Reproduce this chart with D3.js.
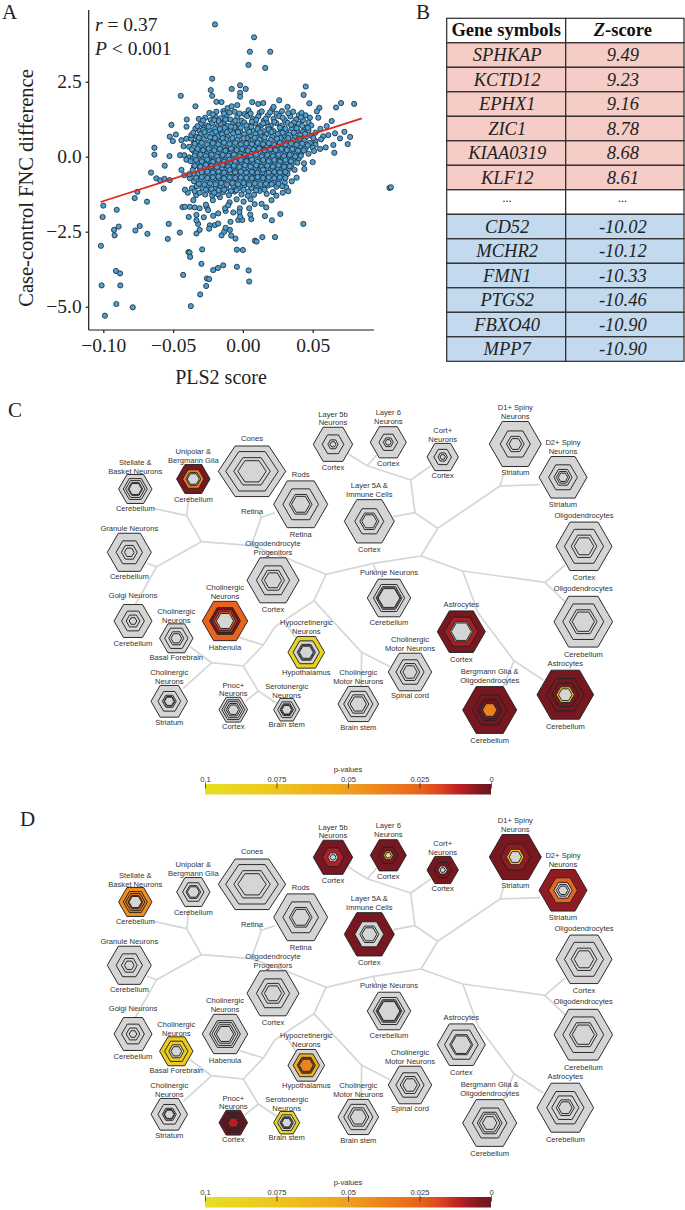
<!DOCTYPE html>
<html><head><meta charset="utf-8">
<script src="https://cdnjs.cloudflare.com/ajax/libs/d3/7.8.5/d3.min.js"></script>
<style>html,body{margin:0;padding:0;background:#fff}svg{display:block;opacity:.999}</style>
</head><body><svg id="fig" width="685" height="1210"></svg>
<script>
// ---------- Panel A values (PLS2 score, case-control FNC difference)
const fringePoints=[[-.020,4.41],[.008,3.98],[.005,3.5],[.0196,3.5],[.004,3.06],[.016,2.96],[-.022,2.6],[-.002,2.38],[.002,2.26],[-.008,2.26],[-.023,2.22],[-.0445,2.03],[-.022,2.03],[-.002,2.13],[-.002,2.0],[.045,2.34],[.0435,2.06],[.0067,1.82],[.011,1.76],[.0146,1.79],[.026,1.88],[.0476,1.78],[.0548,1.63],[.053,1.51],[.0667,1.64],[.0703,1.79],[.0797,1.76],[-.019,1.83],[-.0153,1.82],[-.034,1.68],[.105,-1.04],[.106,-1.02],
[.0636,1.19],[.054,1.3],[.06,1.02],[.0727,.83],[.0768,.66],[.0751,.42],[.0696,.61],[.0655,.13],[.0648,.39],[.0593,.31],[.0553,.26],[.05,-.18],[.0438,-.22],[.044,-.41],[.0385,-.7],[.066,.78],[.0612,.72],[.0575,.68],[.0555,.93],[.052,.52],
[-.0634,.3],[-.0634,.07],[-.0658,-.53],[-.0512,1.06],[-.0402,1.24],[-.0404,1.0],[-.0316,1.26],[-.048,.74],[-.0524,.67],[-.0502,.52],[-.0526,.02],[-.056,-.3],[-.062,-.72],[-.0593,-.79],[-.0562,-.74],[-.0524,-.78],[-.0567,-1.06],[-.044,-.44],[-.0756,-1.17],[-.0775,-1.38],[-.0687,-1.5],[-.1,-1.63],[-.1005,-2.01],[-.0904,-1.77],[-.0923,-2.44],[-.0919,-2.62],[-.089,-2.33],[-.077,-2.46],[-.0739,-2.31],[-.0684,-2.57],[-.1017,-2.97],[-.1012,-4.29],[-.0909,-3.81],[-.088,-3.89],[-.0878,-4.29],[-.0907,-4.91],[-.0988,-5.3],[-.0789,-5.02],[-.0373,-4.98],[-.0306,-4.59],[-.0263,-4.31],[-.0258,-4.06],[-.0242,-4.08],[-.0428,-3.94],[-.0297,-3.57],[-.0292,-3.09],[-.039,-3.18],[-.0382,-3.2],[-.0378,-3.34],[-.0213,-3.78],[-.0179,-3.71],[-.0141,-3.62],[-.0043,-3.67],[-.0043,-3.1],[0,-3.11],[.0041,-3.79],[.0045,-4.16],[-.0538,-2.74],[-.0531,-2.24],[-.0452,-2.53],[-.031,-2.44],[-.0333,-2.56],[.0433,-2.24],[.023,-2.68],[.0139,-2.68],[.0086,-2.8],[.0098,-2.83],[-.0053,-2.73],[-.0084,-2.63],[-.0153,-2.62],[-.0134,-2.5],[-.0093,-2.44],[-.0124,-2.37],[-.0089,-2.17],[-.0033,-2.11],[-.0005,-2.11],[.006,-2.08],[.0053,-1.93],[.0208,-2.12],[.0268,-1.91],[.0158,-1.98],[.0167,-1.69],[.0134,-1.57],[.0084,-1.58],[.0045,-1.72],[-.0022,-1.72],[-.0069,-1.86],[-.0237,-2.29],[-.0201,-2.28],[-.0177,-2.23],[-.0242,-2.4],[-.0388,-2.01],[-.0333,-1.94],[-.0321,-2.24],[-.0333,-2.12],[-.028,-2.02],[-.0213,-1.97],[-.0177,-1.89],[-.0124,-1.81],[-.0433,-1.68],[-.038,-1.67],[-.0345,-1.69],[-.031,-1.72],[-.026,-1.67],[-.0249,-1.78],[-.0265,-1.6],[-.0128,-1.72],[-.0095,-1.52],[-.0105,-1.62],[-.0025,-1.85],[-.002,-2.0],[-.0415,-1.67],[-.0355,-1.45],[-.0335,-1.28],[-.0395,-1.2],[-.0415,-1.1],[-.0365,-1.05],[-.0345,-1.15],[.0205,-1.45],[.024,-1.3],[.0215,-1.18],[.0285,-1.2],[.031,-1.02],[.0325,-1.15],[.0055,-1.42],[.0005,-1.5],[-.0045,-1.42],[-.0165,-1.35],[-.022,-1.3],[-.0215,-1.45],[-.042,-.62],[-.038,-.72],[-.045,.05],[-.042,.05],[-.044,.55],[-.0405,.6],[-.037,.6],[-.0425,.35],[-.0385,.33],[-.035,.45],[-.0355,.2],[-.0385,-.02],[-.0405,-.1],[-.035,-.32],[-.0345,-.6],[-.0385,-.58]];
const cloudPoints=[[-.024,1.46],[-.019,1.5],[-.014,1.52],[-.011,1.62],[-.008,1.68],[-.004,1.72],[-.006,1.5],[.001,1.42],[.004,1.55],[.012,1.46],[.021,1.58],[.024,1.44],[.032,1.66],[.036,1.5],[.040,1.38],[.045,1.38],[.048,1.3],[.022,1.66],[.028,1.52],[.042,1.46],
[-.027,1.3],[-.023,1.22],[-.02,1.34],[-.016,1.28],[-.012,1.38],[-.009,1.24],[-.004,1.33],[-.001,1.2],[.003,1.36],[.007,1.26],[.011,1.34],[.015,1.2],[.018,1.38],[.022,1.26],[.026,1.35],[.03,1.22],[.034,1.34],[.038,1.24],[.043,1.22],[.047,1.14],
[-.03,1.1],[-.026,1.04],[-.022,1.12],[-.018,1.02],[-.014,1.14],[-.011,1.03],[-.007,1.12],[-.003,1.05],[.001,1.14],[.005,1.02],[.009,1.12],[.013,1.04],[.017,1.15],[.02,1.03],[.024,1.12],[.028,1.04],[.032,1.13],[.036,1.02],[.04,1.1],[.044,.98],[.049,1.04],
[-.034,.94],[-.031,.86],[-.028,.96],[-.024,.88],[-.02,.94],[-.016,.85],[-.013,.96],[-.009,.87],[-.005,.95],[-.002,.84],[.003,.93],[.007,.86],[.011,.96],[.015,.85],[.019,.93],[.022,.85],[.027,.93],[.031,.84],[.035,.94],[.039,.86],[.043,.83],[.047,.87],[.052,.8],
[-.037,.72],[-.033,.66],[-.03,.76],[-.026,.69],[-.022,.77],[-.018,.68],[-.015,.75],[-.011,.66],[-.007,.77],[-.003,.68],[.001,.75],[.005,.67],[.009,.76],[.013,.69],[.017,.75],[.021,.66],[.025,.76],[.029,.67],[.033,.74],[.037,.66],[.041,.72],[.045,.64],[.049,.7],[.056,.58],
[-.032,.52],[-.028,.58],[-.024,.49],[-.02,.57],[-.016,.5],[-.012,.58],[-.008,.48],[-.004,.56],[0,.49],[.004,.57],[.008,.48],[.012,.57],[.016,.5],[.02,.56],[.024,.47],[.028,.57],[.032,.49],[.036,.55],[.04,.47],[.044,.54],[.048,.46],[.052,.4],
[-.031,.36],[-.027,.29],[-.023,.38],[-.019,.3],[-.015,.39],[-.011,.31],[-.007,.38],[-.003,.29],[.001,.37],[.005,.3],[.009,.39],[.013,.29],[.017,.37],[.021,.3],[.025,.38],[.029,.29],[.033,.37],[.037,.28],[.041,.35],[.045,.28],[.05,.3],
[-.034,.12],[-.03,.18],[-.026,.09],[-.022,.17],[-.018,.1],[-.014,.19],[-.01,.1],[-.006,.18],[-.002,.09],[.002,.18],[.006,.11],[.01,.19],[.014,.09],[.018,.17],[.022,.1],[.026,.18],[.03,.09],[.034,.17],[.038,.09],[.042,.14],[.047,.1],[.051,.19],
[-.036,-.06],[-.032,.0],[-.028,-.08],[-.024,-.01],[-.02,-.09],[-.016,.0],[-.012,-.07],[-.008,-.01],[-.004,-.1],[0,-.02],[.004,-.08],[.008,0],[.012,-.09],[.016,-.02],[.02,-.07],[.024,-.01],[.028,-.08],[.032,-.02],[.036,-.07],[.04,-.06],
[-.033,-.2],[-.029,-.27],[-.025,-.18],[-.021,-.26],[-.017,-.18],[-.013,-.28],[-.009,-.19],[-.005,-.27],[-.001,-.18],[.003,-.26],[.007,-.19],[.011,-.28],[.015,-.18],[.019,-.26],[.023,-.2],[.027,-.27],[.031,-.19],[.035,-.26],[.039,-.2],
[-.036,-.44],[-.031,-.38],[-.027,-.46],[-.023,-.37],[-.019,-.45],[-.015,-.38],[-.011,-.47],[-.007,-.37],[-.003,-.45],[.001,-.38],[.005,-.46],[.009,-.36],[.013,-.44],[.017,-.38],[.021,-.46],[.025,-.37],[.029,-.45],[.033,-.4],[.037,-.44],
[-.032,-.58],[-.028,-.65],[-.024,-.56],[-.02,-.64],[-.016,-.57],[-.012,-.66],[-.008,-.56],[-.004,-.65],[0,-.58],[.004,-.63],[.008,-.55],[.012,-.66],[.016,-.57],[.02,-.64],[.024,-.58],[.028,-.66],[.032,-.57],
[-.035,-.82],[-.03,-.76],[-.026,-.85],[-.022,-.76],[-.018,-.84],[-.014,-.77],[-.01,-.86],[-.006,-.76],[-.002,-.84],[.002,-.77],[.006,-.85],[.01,-.75],[.014,-.84],[.018,-.78],[.022,-.85],[.026,-.76],[.03,-.86],[.035,-.82],
[-.033,-.98],[-.029,-1.05],[-.025,-.96],[-.02,-1.04],[-.016,-.97],[-.012,-1.06],[-.007,-.97],[-.003,-1.05],[.001,-.96],[.006,-1.05],[.01,-.97],[.014,-1.06],[.018,-.96],[.024,-1.0],[.028,-.98],
[-.031,-1.2],[-.027,-1.26],[-.023,-1.15],[-.018,-1.25],[-.014,-1.18],[-.01,-1.28],[-.006,-1.16],[-.001,-1.26],[.004,-1.16],[.008,-1.27],[.012,-1.14],[.017,-1.24],
[-.016,1.1],[-.006,.98],[.006,1.0],[.018,1.0],[-.02,.62],[.003,.62],[.027,.62],[-.012,.22],[.015,.23],[-.024,-.14],[.005,-.14],[.026,-.13],[-.009,-.52],[.014,-.52],[-.017,-.72],[.009,-.7]];
const denseCorePoints=[[-.0285,1.21],[-.0215,1.41],[-.0175,1.19],[-.0135,1.44],[-.0095,1.47],[-.0025,1.44],[.0055,1.44],[.0095,1.23],[.0135,1.51],[.0165,1.27],[.0195,1.48],[.0285,1.3],[.0325,1.45],[.0365,1.14],[.0415,1.31],
[-.0325,1.02],[-.0285,.9],[-.0245,1.0],[-.0205,1.22],[-.0165,.92],[-.0125,1.24],[-.0085,1.0],[-.0055,1.2],[-.0015,.97],[.0025,1.04],[.0065,1.17],[.0105,.92],[.0145,1.11],[.0185,.91],[.0225,1.16],[.0265,.97],[.0305,.93],[.0345,1.06],[.0385,.95],[.0425,1.03],[.0465,.96],
[-.0355,.8],[-.0315,.63],[-.0275,.82],[-.0235,.65],[-.0195,.83],[-.0145,.62],[-.0115,.82],[-.0075,.62],[-.0035,.82],[.0005,.61],[.0045,.83],[.0085,.63],[.0125,.81],[.0155,.64],[.0205,.82],[.0245,.6],[.0285,.8],[.0325,.62],[.0365,.8],[.0405,.6],[.0445,.76],[.0505,.62],
[-.0345,.43],[-.0295,.46],[-.0255,.4],[-.0215,.45],[-.0175,.41],[-.0135,.47],[-.0095,.42],[-.0055,.46],[-.0015,.41],[.0025,.44],[.0065,.42],[.0105,.46],[.0145,.42],[.0185,.45],[.0225,.39],[.0265,.46],[.0305,.41],[.0345,.44],[.0385,.4],[.0425,.44],[.0465,.38],
[-.0365,.24],[-.0325,.26],[-.0285,.22],[-.0245,.27],[-.0205,.21],[-.0165,.26],[-.0125,.2],[-.0085,.27],[-.0045,.22],[-.0005,.26],[.0035,.2],[.0075,.24],[.0115,.27],[.0155,.21],[.0195,.25],[.0235,.22],[.0275,.26],[.0315,.22],[.0355,.25],[.0395,.2],[.0435,.21],
[-.0345,.03],[-.0305,.07],[-.0265,.02],[-.0225,.07],[-.0185,.01],[-.0145,.06],[-.0105,.03],[-.0065,.07],[-.0025,.01],[.0015,.06],[.0055,.02],[.0095,.07],[.0135,.01],[.0175,.06],[.0215,.02],[.0255,.06],[.0295,.02],[.0335,.06],[.0375,.01],[.0415,.03],
[-.0375,-.15],[-.0335,-.11],[-.0295,-.16],[-.0255,-.1],[-.0215,-.17],[-.0175,-.11],[-.0135,-.16],[-.0095,-.1],[-.0055,-.17],[-.0015,-.11],[.0025,-.15],[.0065,-.1],[.0105,-.17],[.0145,-.11],[.0185,-.15],[.0225,-.11],[.0265,-.17],[.0305,-.11],[.0345,-.15],
[-.0345,-.3],[-.0305,-.33],[-.0265,-.27],[-.0225,-.31],[-.0185,-.35],[-.0145,-.27],[-.0105,-.33],[-.0065,-.3],[-.0025,-.34],[.0015,-.29],[.0055,-.33],[.0095,-.29],[.0135,-.34],[.0175,-.3],[.0215,-.33],[.0255,-.29],[.0295,-.34],[.0335,-.32],
[-.0295,-.52],[-.0255,-.5],[-.0215,-.53],[-.0175,-.5],[-.0135,-.53],[-.0095,-.44],[-.0055,-.52],[-.0015,-.5],[.0025,-.53],[.0065,-.51],[.0105,-.54],[.0145,-.43],[.0185,-.53],[.0225,-.51],[.0265,-.53],[.0305,-.51],
[-.0335,-.7],[-.0295,-.68],[-.0255,-.71],[-.0215,-.69],[-.0175,-.66],[-.0135,-.72],[-.0095,-.69],[-.0055,-.71],[-.0015,-.69],[.0025,-.7],[.0065,-.72],[.0105,-.68],[.0145,-.71],[.0185,-.69],[.0225,-.72],[.0265,-.69],[.0305,-.71],
[-.0315,-.9],[-.0275,-.93],[-.0235,-.89],[-.0195,-.92],[-.0155,-.88],[-.0115,-.93],[-.0075,-.88],[-.0035,-.92],[.0005,-.88],[.0045,-.93],[.0085,-.89],[.0125,-.92],[.0165,-.9],[.0205,-.92],[.0255,-.9],
[-.0265,-1.1],[-.0225,-1.08],[-.0175,-1.12],[-.0135,-1.1],[-.0085,-1.14],[-.0045,-1.12],[.0005,-1.1],[.0035,-1.3],[.0095,-1.12],[.0155,-1.1],[-.0205,-1.2]];
const fitX=[-.102,.0852];
const fitY=[-1.51,1.28];
const xTicks=[-.1,-.05,0,.05];
const yTicks=[-5,-2.5,0,2.5];

// ---------- Panel B values
const genes=["SPHKAP","KCTD12","EPHX1","ZIC1","KIAA0319","KLF12","...","CD52","MCHR2","FMN1","PTGS2","FBXO40","MPP7"];
const zScores=["9.49","9.23","9.16","8.78","8.68","8.61","...","-10.02","-10.12","-10.33","-10.46","-10.90","-10.90"];

// ---------- Panels C / D values
const cellTypes=[["Stellate &","Basket Neurons"],["Unipolar &","Bergmann Glia"],["Cones"],["Rods"],["Layer 5b","Neurons"],["Layer 5A &","Immune Cells"],["Layer 6","Neurons"],["Cort+","Neurons"],["D1+ Spiny","Neurons"],["D2+ Spiny","Neurons"],["Oligodendrocytes"],["Oligodendrocytes"],["Purkinje Neurons"],["Astrocytes"],["Astrocytes"],["Bergmann Glia &","Oligodendrocytes"],["Cholinergic","Motor Neurons"],["Cholinergic","Motor Neurons"],["Oligodendrocyte","Progenitors"],["Granule Neurons"],["Golgi Neurons"],["Cholinergic","Neurons"],["Cholinergic","Neurons"],["Hypocretinergic","Neurons"],["Cholinergic","Neurons"],["Pnoc+","Neurons"],["Serotonergic","Neurons"]];
const regions=["Cerebellum","Cerebellum","Retina","Retina","Cortex","Cortex","Cortex","Cortex","Striatum","Striatum","Cortex","Cerebellum","Cerebellum","Cortex","Cerebellum","Cerebellum","Spinal cord","Brain stem","Cortex","Cerebellum","Cerebellum","Basal Forebrain","Habenula","Hypothalamus","Striatum","Cortex","Brain stem"];
const _=null;
// p-value of each nested ring, outermost first (null = not significant)
const pValuesC=[[_],[.002,.035],[_],[_],[_],[_],[_],[_],[_],[_],[_],[_],[_],[.002,.009],[.002,.002,.002,.085],[.002,.002,.002,.002,.037],[_],[_],[_],[_],[_],[_],[.025,.002,.012,.03],[.088],[_],[_],[_]];
const pValuesD=[[.043,.038,.03,.03],[_],[_],[_],[.002,.01],[.002],[.002,.002,.055],[.002,.002],[.002,.006,.068],[.006,.025],[_],[_],[_],[_],[_],[_],[_],[_],[_],[_],[_],[.08,.082],[_],[_,.06,.045,.045,.038],[_],[.002,.002,.002,.002,.01],[.09]];
const colorTicks=[.1,.075,.05,.025,0];
const colorStops=[[0,"#6f1420"],[.004,"#7f1a20"],[.011,"#bb1f26"],[.018,"#dc471f"],[.025,"#e8641c"],[.05,"#f0a01e"],[.075,"#eec51e"],[.1,"#e5e022"]];

// ---------- Diagram layout (separate from values), in the coordinates of panel C
const hexLayout=[
{cx:135.3,cy:489,r:16.7,rings:[1,.72,.58,.44,.38],ly:462.3,ry:508.3},
{cx:193.3,cy:479,r:16.7,rings:[1,.64,.44,.36],ly:451.3,ry:499},
{cx:252,cy:471.3,r:33.7,ratio:.75,rings:[1,.78,.54,.42],ly:438.7,ry:511.7},
{cx:300.7,cy:504.3,r:27,rings:[1,.66,.42,.34],ly:474.7,ry:534},
{cx:333,cy:444.3,r:19.7,rings:[1,.55,.26,.15],ly:414,ry:467.3},
{cx:369.3,cy:521.3,r:25,rings:[1,.58,.38,.3],ly:485.7,ry:549.3},
{cx:388.3,cy:442.3,r:18,rings:[1,.52,.28,.17],ly:412.7,ry:463.3},
{cx:442.7,cy:457,r:15.7,rings:[1,.56,.3,.17],ly:430.3,ry:475.7},
{cx:515.3,cy:444,r:26,rings:[1,.58,.34,.24],ly:407.3,ry:472.7},
{cx:563,cy:477.3,r:24,rings:[1,.6,.38,.28,.2],ly:442.3,ry:504.7},
{cx:584,cy:546.3,r:28,rings:[1,.7,.46,.35],ly:515,ry:577},
{cx:583.3,cy:621.7,r:29.3,rings:[1,.7,.47,.38],ly:588.3,ry:654},
{cx:389,cy:598,r:21.7,rings:[1,.72,.6,.54,.5],ly:572.7,ry:622.3},
{cx:461.3,cy:631.7,r:24,rings:[1,.7,.48,.42],ly:604,ry:659.3},
{cx:565.3,cy:694.7,r:28.3,rings:[1,.66,.48,.32,.24],ly:663,ry:726.7},
{cx:489.7,cy:710,r:27,rings:[1,.64,.46,.38,.27],ly:671.7,ry:740},
{cx:410,cy:672,r:21.7,rings:[1,.65,.45,.33],ly:639.7,ry:695.7},
{cx:358.3,cy:704,r:20.3,rings:[1,.72,.52,.4],ly:672.7,ry:727},
{cx:273,cy:580.3,r:26,rings:[1,.64,.44,.33],ly:543.3,ry:609.3},
{cx:129.3,cy:552.3,r:22,rings:[1,.6,.36,.22],ly:528.3,ry:576.3},
{cx:133,cy:621,r:19,rings:[1,.6,.36,.2],ly:595,ry:643},
{cx:176.3,cy:638.3,r:16.7,rings:[1,.7,.45,.32],ly:611.3,ry:657},
{cx:225,cy:621,r:22.7,rings:[1,.68,.58,.47,.38],ly:587.7,ry:647},
{cx:306.3,cy:652.3,r:18.3,rings:[1,.72,.5,.44,.38],ly:622.7,ry:672.3},
{cx:169.3,cy:701.3,r:18.3,rings:[1,.62,.38,.3,.26],ly:672.7,ry:722},
{cx:233.3,cy:709.7,r:14.3,rings:[1,.8,.65,.5,.38],ly:685,ry:726.3},
{cx:286.7,cy:709.7,r:13,rings:[1,.7,.52,.44,.38],ly:686.3,ry:724.7}];
const treeEdges=[
[[153.3,508.3],[186.7,515.7],[201.3,541.7]],[[189,496.7],[186.7,515.7]],
[[201.3,541.7],[156.7,566.7],[146.7,563.3]],[[156.7,566.7],[135,605]],
[[201.3,541.7],[251.3,545.7],[286.7,558.3],[326,574.3]],[[251.3,545.7],[261.3,517.3],[275,512.7]],[[261.3,517.3],[258.3,511.7]],
[[326,574.3],[373.3,563.3],[421,556]],[[373.3,563.3],[376,572]],
[[326,574.3],[314,600.7],[275,626.7],[263.3,645],[243.3,666],[211.7,662.7],[190,646.7]],[[211.7,662.7],[183.3,688.3]],
[[314,600.7],[361.7,652.3],[390,666.7]],[[361.7,652.3],[361,687]],
[[238.3,637.3],[263.3,645]],[[286,624],[296,638]],
[[243.3,666],[258.3,691],[276.7,703.3]],[[258.3,691],[245,701.7]],
[[421,556],[437.7,528.3],[500,486],[503.3,475]],[[500,486],[540,484.7]],
[[437.7,528.3],[415,512.7],[393.3,516.7]],[[415,512.7],[410.7,480],[430.7,466]],[[410.7,480],[367.3,465.7],[376.7,455]],[[367.3,465.7],[348.3,454]],
[[421,556],[462.7,571],[545,582.3],[565,565]],[[545,582.3],[565,601.7]],
[[462.7,571],[478.3,613.3],[514,660.7],[503.3,686.7]],[[514,660.7],[543.3,680]]];

// ---------- Drawing
const svg=d3.select("#fig");
const serif="'Liberation Serif','Times New Roman',serif", sans="'Liberation Sans',Arial,sans-serif";
[["A",2,19],["B",416,19],["C",8,417],["D",20,826]].forEach(([t,x,y])=>svg.append("text").attr("x",x).attr("y",y).text(t).attr("font-family",serif).attr("font-size",21).attr("fill","#222"));

// Panel A
const xScale=d3.scaleLinear().domain([-.1,.05]).range([103.3,312.7]);
const yScale=d3.scaleLinear().domain([-5,2.5]).range([306.7,81.7]);
const A=svg.append("g");
A.append("g").selectAll("circle").data(fringePoints.concat(cloudPoints,denseCorePoints)).join("circle")
 .attr("cx",d=>xScale(d[0])).attr("cy",d=>yScale(d[1])).attr("r",2.6)
 .attr("fill","#4f9fcf").attr("stroke","#1b2e3d").attr("stroke-width",.85);
A.append("line").attr("x1",xScale(fitX[0])).attr("x2",xScale(fitX[1])).attr("y1",yScale(fitY[0])).attr("y2",yScale(fitY[1])).attr("stroke","#e1261c").attr("stroke-width",1.8);
const xAxis=A.append("g").attr("transform","translate(0,330)").call(d3.axisBottom(xScale).tickValues(xTicks).tickFormat(d3.format(".2f")).tickSize(3).tickSizeOuter(0));
const yAxis=A.append("g").attr("transform","translate(88.7,0)").call(d3.axisLeft(yScale).tickValues(yTicks).tickFormat(d3.format(".1f")).tickSize(3).tickSizeOuter(0));
xAxis.select(".domain").attr("d","M88.7,0H374");
yAxis.select(".domain").attr("d","M0,10V330");
[xAxis,yAxis].forEach(g=>{g.selectAll("path,line").attr("stroke","#1a1a1a").attr("stroke-width",1.2);
 g.selectAll("text").attr("font-family",serif).attr("font-size",19.5).attr("fill","#222");});
xAxis.selectAll("text").attr("y",8);
yAxis.selectAll("text").attr("x",-7);
A.append("text").attr("x",221).attr("y",384).attr("text-anchor","middle").text("PLS2 score").attr("font-family",serif).attr("font-size",20).attr("fill","#222");
A.append("text").attr("transform","translate(33,188) rotate(-90)").attr("text-anchor","middle").text("Case-control FNC difference").attr("font-family",serif).attr("font-size",20.5).attr("fill","#222");
const st1=A.append("text").attr("x",95).attr("y",31).attr("font-family",serif).attr("font-size",19.5).attr("fill","#222");
st1.append("tspan").attr("font-style","italic").text("r");st1.append("tspan").text(" = 0.37");
const st2=A.append("text").attr("x",95).attr("y",55).attr("font-family",serif).attr("font-size",19.5).attr("fill","#222");
st2.append("tspan").attr("font-style","italic").text("P");st2.append("tspan").text(" < 0.001");

// Panel B
const rowKeys=["header"].concat(genes.map((g,i)=>i));
const rowScale=d3.scaleBand().domain(rowKeys).range([18.3,361.3]);
const colX=[446.7,565.7,684];
const B=svg.append("g");
const rows=B.selectAll("g").data(rowKeys).join("g").attr("transform",d=>`translate(0,${rowScale(d)})`);
const rowFill=d=>d==="header"||genes[d]==="..."?"#fff":(d<6?"#f5cdc6":"#c3d9ee");
[0,1].forEach(c=>rows.append("rect").attr("x",colX[c]).attr("width",colX[c+1]-colX[c]).attr("height",rowScale.bandwidth()).attr("fill",rowFill).attr("stroke","#2a2a2a").attr("stroke-width",1.2));
rows.filter(d=>d!=="header").each(function(d){const g=d3.select(this);
 const dots=genes[d]==="...";
 g.append("text").attr("x",(colX[0]+colX[1])/2+1).attr("y",rowScale.bandwidth()/2+(dots?0:6)).attr("text-anchor","middle").text(dots?"...":genes[d]).attr("font-family",serif).attr("font-style","italic").attr("font-size",dots?12:18.5).attr("fill","#222");
 g.append("text").attr("x",(colX[1]+colX[2])/2-2).attr("y",rowScale.bandwidth()/2+(dots?0:6)).attr("text-anchor","middle").text(dots?"...":zScores[d]).attr("font-family",serif).attr("font-style","italic").attr("font-size",dots?12:18.5).attr("fill","#222");
});
const hd=rows.filter(d=>d==="header");
hd.append("text").attr("x",(colX[0]+colX[1])/2).attr("y",18).attr("text-anchor","middle").text("Gene symbols").attr("font-family",serif).attr("font-weight","bold").attr("font-size",18.5).attr("fill","#111");
const hz=hd.append("text").attr("x",(colX[1]+colX[2])/2-2).attr("y",18).attr("text-anchor","middle").attr("font-family",serif).attr("font-weight","bold").attr("font-size",18.5).attr("fill","#111");
hz.append("tspan").attr("font-style","italic").text("Z");hz.append("tspan").text("-score");

// Panels C and D
const pColor=d3.scaleLinear().domain(colorStops.map(d=>d[0])).range(colorStops.map(d=>d[1]));
const GREY="#d5d5d5";
const hexPath=(r,ry)=>d3.line()([[r,0],[r/2,ry],[-r/2,ry],[-r,0],[-r/2,-ry],[r/2,-ry]])+"Z";
const edgeLine=d3.line();
const defs=svg.append("defs");
const grad=defs.append("linearGradient").attr("id","pbar");
d3.range(0,1.0001,.02).forEach(t=>grad.append("stop").attr("offset",t).attr("stop-color",pColor(.1*(1-t))));
const barScale=d3.scaleLinear().domain([.1,0]).range([205,491]);

function drawPanel(dy,pValues){
 const g=svg.append("g").attr("transform",`translate(0,${dy})`);
 g.append("g").selectAll("path").data(treeEdges).join("path").attr("d",edgeLine).attr("fill","none").attr("stroke","#d6d6d6").attr("stroke-width",1.7).attr("stroke-linejoin","round");
 const nodes=g.append("g").selectAll("g").data(hexLayout).join("g");
 nodes.each(function(n,i){
  const h=d3.select(this).append("g").attr("transform",`translate(${n.cx},${n.cy})`);
  const ratio=n.ratio||.866;
  n.rings.forEach((f,k)=>{const p=pValues[i][k];
   h.append("path").attr("d",hexPath(n.r*f,n.r*f*ratio)).attr("fill",p==null?GREY:pColor(p)).attr("stroke","#222").attr("stroke-width",.95).attr("stroke-linejoin","miter");
  });
  const t=d3.select(this).append("g").attr("text-anchor","middle").attr("font-family",sans).attr("font-size",7.6).attr("fill","#333");
  cellTypes[i].forEach((line,k)=>t.append("text").attr("x",n.cx).attr("y",n.ly+k*8.5+2.7).text(line));
  t.append("text").attr("x",n.cx).attr("y",n.ry+2.7).text(regions[i]);
 });
 const bar=g.append("g");
 bar.append("rect").attr("x",205).attr("y",784).attr("width",286).attr("height",10.5).attr("fill","url(#pbar)");
 const ax=bar.append("g").attr("transform","translate(0,788.5)").call(d3.axisTop(barScale).tickValues(colorTicks).tickFormat(d=>String(d)).tickSize(6).tickSizeOuter(0));
 ax.select(".domain").remove();
 ax.selectAll("line").attr("stroke","#333").attr("stroke-width",.8);
 ax.selectAll("text").attr("font-family",sans).attr("font-size",7.6).attr("fill","#333").attr("y",-7);
 bar.append("text").attr("x",348).attr("y",772).attr("text-anchor","middle").text("p-values").attr("font-family",sans).attr("font-size",7.6).attr("fill","#333");
}
drawPanel(0,pValuesC);
drawPanel(413,pValuesD);
</script></body></html>
